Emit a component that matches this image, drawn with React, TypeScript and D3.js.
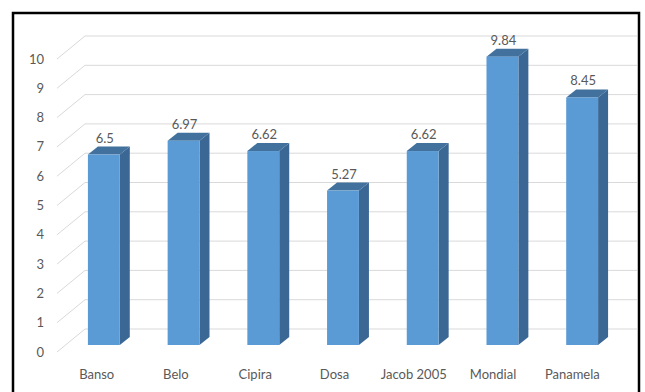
import React from "react";
import * as d3 from "d3";

const categories = ["Banso", "Belo", "Cipira", "Dosa", "Jacob 2005", "Mondial", "Panamela"];
const values = [6.5, 6.97, 6.62, 5.27, 6.62, 9.84, 8.45];
const valueLabels = ["6.5", "6.97", "6.62", "5.27", "6.62", "9.84", "8.45"];
const yTicks = [0, 1, 2, 3, 4, 5, 6, 7, 8, 9, 10];

const W = 645;
const H = 392;
const FONT = "Lato, 'Open Sans', sans-serif";

export default function App() {
  // front plane scale (bars' front faces)
  const yFront = d3.scaleLinear().domain([0, 10]).range([345, 52]);
  // back wall scale
  const yBack = d3.scaleLinear().domain([0, 10]).range([329, 36]);
  // axis label / front floor edge scale
  const yAxis = d3.scaleLinear().domain([0, 10]).range([352, 59]);

  const x = d3.scaleBand().domain(categories).range([64, 622]).paddingInner(0.6).paddingOuter(0.3);
  const xLabel = d3.scaleBand().domain(categories).range([57, 612]);

  const depthX = 10;
  const depthY = 8;

  return (
    <svg width={W} height={H} style={{ position: "absolute", left: 0, top: 0, background: "#fff" }}>
      <rect x={0} y={0} width={W} height={H} fill="#fff" />
      {/* gridlines */}
      {yTicks.map((t) => (
        <g key={t}>
          <line x1={57} y1={yAxis(t)} x2={85} y2={yBack(t)} stroke="#d9d9d9" strokeWidth={1} />
          <line x1={85} y1={yBack(t)} x2={637} y2={yBack(t)} stroke="#d9d9d9" strokeWidth={1} />
          <text
            x={44}
            y={yAxis(t)}
            dy="0.35em"
            textAnchor="end"
            fontFamily={FONT}
            fontSize={13}
            fill="#595959"
          >
            {t}
          </text>
        </g>
      ))}
      {/* bars */}
      {categories.map((c, i) => {
        const x0 = x(c)!;
        const w = x.bandwidth();
        const yt = yFront(values[i]);
        const yb = yFront(0);
        const x1 = x0 + w;
        const top = `M${x0},${yt} L${x0 + depthX},${yt - depthY} L${x1 + depthX},${yt - depthY} L${x1},${yt} Z`;
        const side = `M${x1},${yt} L${x1 + depthX},${yt - depthY} L${x1 + depthX},${yb - depthY} L${x1},${yb} Z`;
        return (
          <g key={c}>
            <path d={side} fill="#3b6795" />
            <path d={top} fill="#41719c" />
            <rect x={x0} y={yt} width={w} height={yb - yt} fill="#5b9bd5" />
            <text
              x={x0 + w / 2 + 1}
              y={yt - 12}
              textAnchor="middle"
              fontFamily={FONT}
              fontSize={13}
              fill="#595959"
            >
              {valueLabels[i]}
            </text>
          </g>
        );
      })}
      {/* category labels */}
      {categories.map((c) => (
        <text
          key={c}
          x={xLabel(c)! + xLabel.bandwidth() / 2}
          y={374}
          dy="0.35em"
          textAnchor="middle"
          fontFamily={FONT}
          fontSize={13}
          fill="#595959"
        >
          {c}
        </text>
      ))}
      {/* border */}
      <rect x={13} y={13} width={626} height={400} fill="none" stroke="#000" strokeWidth={2.5} />
    </svg>
  );
}
